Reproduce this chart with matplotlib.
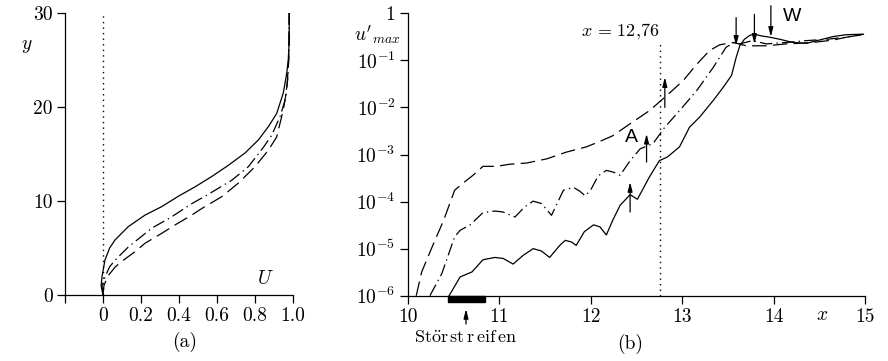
import numpy as np
import matplotlib
matplotlib.use("Agg")
import matplotlib.pyplot as plt
from matplotlib.patches import Rectangle, FancyArrowPatch

plt.rcParams['mathtext.fontset'] = 'cm'
plt.rcParams['font.family'] = ['cmr10', 'DejaVu Serif']
plt.rcParams['axes.formatter.use_mathtext'] = True
plt.rcParams['lines.scale_dashes'] = False

# ---------------- panel (a): velocity profiles U(y) ----------------
a_solid_y = [0, 1, 2, 3, 3.7, 5, 5.85, 7.27, 8.5, 9.4, 10.5, 11.5, 12.6, 13.8, 15.1, 16.5, 17.9, 19.3, 21.5, 23.6, 25, 27, 30]
a_solid_U = [0, -0.01, -0.005, 0.004, 0.01, 0.035, 0.063, 0.133, 0.221, 0.309, 0.396, 0.484, 0.572, 0.66, 0.747, 0.818, 0.87, 0.914, 0.949, 0.967, 0.975, 0.98, 0.98]

a_dashdot_y = [0, 1, 2, 3, 3.7, 5.1, 7.1, 8.3, 9.75, 10.6, 12.2, 13.65, 15.7, 17.0, 19.0, 20.7, 22.9, 26, 30]
a_dashdot_U = [0, -0.005, 0.012, 0.035, 0.063, 0.133, 0.256, 0.36, 0.47, 0.545, 0.677, 0.765, 0.844, 0.888, 0.932, 0.958, 0.972, 0.98, 0.98]

a_dashed_y = [0, 1, 2, 3, 3.7, 4.6, 5.5, 6.56, 7.45, 8.5, 9.2, 10.46, 11.9, 13.65, 15.4, 16.8, 19.7, 22, 25, 30]
a_dashed_U = [0, 0.005, 0.025, 0.065, 0.107, 0.168, 0.221, 0.309, 0.379, 0.467, 0.52, 0.625, 0.712, 0.8, 0.87, 0.914, 0.949, 0.968, 0.977, 0.98]

a_xticks = [-0.2, 0, 0.2, 0.4, 0.6, 0.8, 1.0]
a_xticklabels = ["", "0", "0.2", "0.4", "0.6", "0.8", "1.0"]
a_yticks = [0, 10, 20, 30]
a_yticklabels = ["0", "10", "20", "30"]

# ---------------- panel (b): u'_max(x) ----------------
b_solid_x = [10.45, 10.57, 10.70, 10.82, 10.95, 11.04, 11.15, 11.26, 11.37, 11.46, 11.55, 11.66, 11.72, 11.79, 11.84,
             11.93, 12.03, 12.10, 12.17, 12.24, 12.32, 12.43, 12.51, 12.58, 12.64, 12.75, 12.84, 12.97, 13.08, 13.19,
             13.34, 13.45, 13.54, 13.59, 13.63, 13.68, 13.74, 13.79, 13.87, 13.96, 14.07, 14.21, 14.36, 14.50, 14.65,
             14.79, 14.97]
b_solid_u = [1.0e-6, 2.5e-6, 3.2e-6, 5.8e-6, 6.5e-6, 6.2e-6, 4.7e-6, 7.2e-6, 1.0e-5, 8.9e-6, 6.5e-6, 1.17e-5, 1.5e-5, 1.38e-5, 1.17e-5,
             2.3e-5, 3.2e-5, 2.9e-5, 1.95e-5, 4.0e-5, 8.3e-5, 1.4e-4, 1.12e-4, 2.0e-4, 3.3e-4, 7.4e-4, 8.9e-4, 1.45e-3, 3.8e-3, 6.2e-3,
             1.41e-2, 2.7e-2, 4.8e-2, 0.115, 0.204, 0.28, 0.34, 0.36, 0.33, 0.31, 0.28, 0.24, 0.23, 0.27, 0.32,
             0.35, 0.36]

b_dashdot_x = [10.24, 10.37, 10.51, 10.57, 10.68, 10.82, 10.95, 11.04, 11.17, 11.28, 11.37, 11.46, 11.57, 11.70, 11.81,
               11.88, 11.94, 12.00, 12.08, 12.17, 12.25, 12.32, 12.43, 12.54, 12.68, 12.81, 12.97, 13.16, 13.34, 13.48,
               13.57, 13.63, 13.77, 13.92, 14.14, 14.36, 14.58, 14.79, 14.97]
b_dashdot_u = [1.0e-6, 2.95e-6, 1.78e-5, 2.45e-5, 3.2e-5, 5.8e-5, 6.3e-5, 6.0e-5, 4.7e-5, 7.8e-5, 1.02e-4, 9.1e-5, 5.1e-5, 1.74e-4, 2.0e-4,
               1.66e-4, 1.32e-4, 1.78e-4, 3.5e-4, 4.6e-4, 4.2e-4, 3.6e-4, 7.4e-4, 1.32e-3, 1.7e-3, 3.8e-3, 8.5e-3, 2.3e-2, 7.1e-2, 0.19,
               0.24, 0.224, 0.263, 0.224, 0.24, 0.263, 0.28, 0.31, 0.35]

b_dashed_x = [10.09, 10.15, 10.28, 10.39, 10.51, 10.60, 10.71, 10.82, 10.97, 11.11, 11.30, 11.52, 11.73, 11.95, 12.10,
              12.24, 12.43, 12.64, 12.83, 13.01, 13.16, 13.30, 13.41, 13.56, 13.70, 13.92, 14.14, 14.28, 14.43, 14.65,
              14.83, 14.99]
b_dashed_u = [1.0e-6, 3.2e-6, 1.29e-5, 4.0e-5, 1.74e-4, 2.45e-4, 3.6e-4, 5.6e-4, 5.6e-4, 6.2e-4, 6.6e-4, 8.1e-4, 1.12e-3, 1.45e-3, 1.9e-3,
              2.5e-3, 4.5e-3, 8.5e-3, 1.78e-2, 3.7e-2, 8.3e-2, 0.162, 0.214, 0.24, 0.204, 0.204, 0.224, 0.23, 0.24, 0.27,
              0.32, 0.36]

b_xticks = [10, 11, 12, 13, 14, 15]
b_xticklabels = ["10", "11", "12", "13", "14", "15"]
b_yticks = [1e-6, 1e-5, 1e-4, 1e-3, 1e-2, 1e-1, 1]
b_yticklabels = ["$10^{-6}$", "$10^{-5}$", "$10^{-4}$", "$10^{-3}$", "$10^{-2}$", "$10^{-1}$", "$1$"]

x_mark = 12.76
strip_x = [10.44, 10.84]
up_arrows_x = [12.43, 12.61, 12.81]
up_arrows_from = [6.0e-5, 6.9e-4, 1.0e-2]
up_arrows_to = [2.6e-4, 2.75e-3, 4.4e-2]
down_arrows_x = [13.59, 13.79, 13.97]
down_arrows_from = [0.81, 0.95, 1.45]
down_arrows_to = [0.204, 0.224, 0.316]

W, H = 888, 361
fig = plt.figure(figsize=(W / 100, H / 100), dpi=100)

def fx(px):
    return px / W

def fy(py):
    return 1 - py / H

lw = 0.9
dash = (0, (10.5, 4.5))
dashdot = (0, (9, 3, 1, 3))
tick_fs = 14

# ---- axes (a)
ax1 = fig.add_axes([fx(65), fy(295), (293 - 65) / W, (295 - 13) / H])
ax1.plot(a_solid_U, a_solid_y, color='black', lw=lw, linestyle='-')
ax1.plot(a_dashdot_U, a_dashdot_y, color='black', lw=lw, linestyle=dashdot)
ax1.plot(a_dashed_U, a_dashed_y, color='black', lw=lw, linestyle=dash)
ax1.axvline(0, color='black', lw=1.0, linestyle=(0, (1, 3)))
ax1.set_xlim(-0.2, 1.0)
ax1.set_ylim(0, 30)
ax1.set_xticks(a_xticks)
ax1.set_xticklabels(a_xticklabels)
ax1.set_yticks(a_yticks)
ax1.set_yticklabels(a_yticklabels)

# ---- axes (b)
ax2 = fig.add_axes([fx(408), fy(295.7), (865 - 408) / W, (295.7 - 13.3) / H])
ax2.set_yscale('log')
ax2.plot(b_solid_x, b_solid_u, color='black', lw=lw, linestyle='-', clip_on=False)
ax2.plot(b_dashdot_x, b_dashdot_u, color='black', lw=lw, linestyle=dashdot, clip_on=False)
ax2.plot(b_dashed_x, b_dashed_u, color='black', lw=lw, linestyle=dash, clip_on=False)
ax2.plot([x_mark, x_mark], [1e-6, 0.22], color='black', lw=1.0, linestyle=(0, (1, 3)))
ax2.set_xlim(10, 15)
ax2.set_ylim(1e-6, 1)
ax2.set_xticks(b_xticks)
ax2.set_xticklabels(b_xticklabels)
ax2.set_yticks(b_yticks)
ax2.set_yticklabels(b_yticklabels)
ax2.minorticks_off()

for ax in (ax1, ax2):
    for s in ('top', 'right'):
        ax.spines[s].set_visible(False)
    for s in ('left', 'bottom'):
        ax.spines[s].set_linewidth(0.9)
    ax.tick_params(direction='out', length=6, width=0.9, labelsize=tick_fs, pad=3)
    ax.patch.set_visible(False)

# arrows
akw = dict(arrowstyle='-|>,head_length=0.55,head_width=0.14', color='black', lw=0.9,
           shrinkA=0, shrinkB=0)
for xa, y0, y1 in zip(up_arrows_x, up_arrows_from, up_arrows_to):
    ax2.annotate('', xy=(xa, y1), xytext=(xa, y0), arrowprops=akw, annotation_clip=False)
for xa, y0, y1 in zip(down_arrows_x, down_arrows_from, down_arrows_to):
    ax2.annotate('', xy=(xa, y1), xytext=(xa, y0), arrowprops=akw, annotation_clip=False)

ax2.text(12.44, 2.3e-3, 'A', fontsize=14, family=['Liberation Sans'], ha='center', va='center')
ax2.text(14.20, 0.87, 'W', fontsize=14, family=['Liberation Sans'], ha='center', va='center', clip_on=False)
ax2.text(12.75, 0.41, r'$x\,=\,12{,}76$', fontsize=13, ha='right', va='center')

# Störstreifen strip
ax2.add_patch(Rectangle((strip_x[0], -0.022), strip_x[1] - strip_x[0], 0.022,
                        transform=ax2.get_xaxis_transform(), color='black', clip_on=False))
fig.add_artist(FancyArrowPatch((fx(466), fy(324)), (fx(466), fy(309)),
                               transform=fig.transFigure,
                               arrowstyle='-|>,head_length=0.55,head_width=0.14',
                               mutation_scale=10, color='black', lw=0.9, shrinkA=0, shrinkB=0))
fig.text(fx(466), fy(338), r'$\mathrm{St\ddot{o}r\,st\,r\,eif\,en}$', fontsize=13, ha='center', va='center')

# axis labels
fig.text(fx(27), fy(46), r'$y$', fontsize=14, ha='center', va='center')
fig.text(fx(265), fy(279), r'$U$', fontsize=14, ha='center', va='center')
fig.text(fx(377), fy(35), r"$u'_{max}$", fontsize=14, ha='center', va='center')
fig.text(fx(822), fy(315), r'$x$', fontsize=14, ha='center', va='center')
fig.text(fx(185), fy(342), '(a)', fontsize=14, ha='center', va='center')
fig.text(fx(630), fy(344), '(b)', fontsize=14, ha='center', va='center')

fig.savefig('out.png', dpi=100)
